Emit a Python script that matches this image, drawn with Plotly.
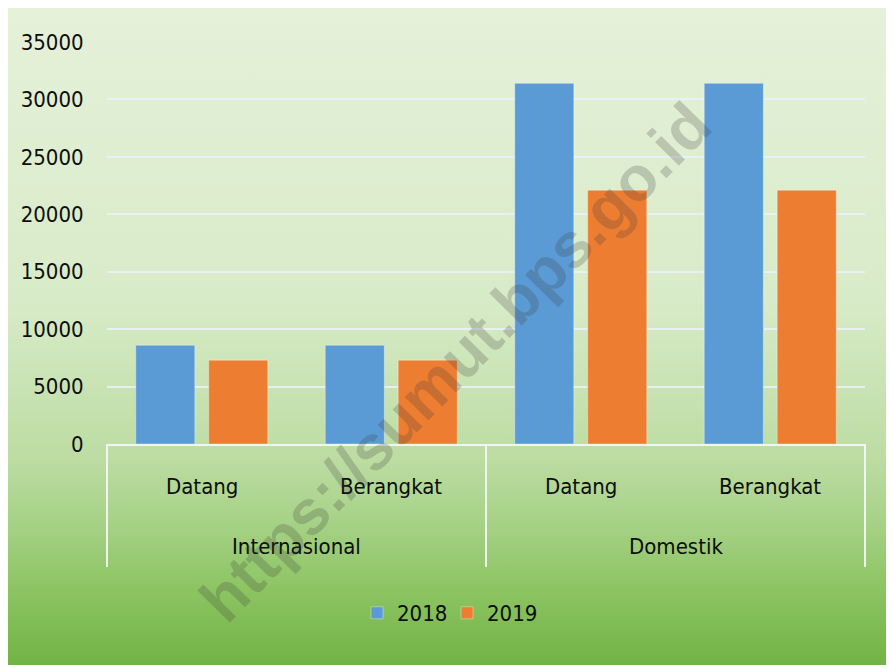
import base64
import plotly.graph_objects as go

groups = ["Internasional", "Internasional", "Domestik", "Domestik"]
subcats = ["Datang", "Berangkat", "Datang", "Berangkat"]
group_labels = ["Internasional", "Domestik"]
series_names = ["2018", "2019"]
values_2018 = [8600, 8600, 31400, 31400]
values_2019 = [7300, 7300, 22100, 22100]
y_ticks = [0, 5000, 10000, 15000, 20000, 25000, 30000, 35000]
watermark = "https://sumut.bps.go.id"

# figure is offset 8px by the page body margin
W, H = 886, 657
L, R, T, B = 99, 29, 34, 221
pw, ph = W - L - R, H - T - B

svg = f'''<svg xmlns="http://www.w3.org/2000/svg" width="{W}" height="{H}" preserveAspectRatio="none">
<defs><linearGradient id="g" x1="0" y1="0" x2="0" y2="1">
<stop offset="0" stop-color="#e5f1d9"/>
<stop offset="0.444" stop-color="#d8ebc8"/>
<stop offset="0.688" stop-color="#bcdca2"/>
<stop offset="0.772" stop-color="#a9d38a"/>
<stop offset="0.886" stop-color="#8cc462"/>
<stop offset="1" stop-color="#72b345"/>
</linearGradient></defs>
<rect x="0" y="0" width="{W}" height="{H}" fill="url(#g)"/>
</svg>'''
bg = "data:image/svg+xml;base64," + base64.b64encode(svg.encode()).decode()

font_fam = "DejaVu Sans Condensed, Liberation Sans Narrow, sans-serif"
txt_col = "#0d0d0d"
lbl_size = 22

fig = go.Figure()
fig.add_trace(go.Bar(
    x=[groups, subcats], y=values_2018, name=series_names[0],
    marker=dict(color="#5b9bd5", line=dict(color="rgba(255,255,255,0.35)", width=1)),
))
fig.add_trace(go.Bar(
    x=[groups, subcats], y=values_2019, name=series_names[1],
    marker=dict(color="#ed7d31", line=dict(color="rgba(255,255,255,0.35)", width=1)),
))

annotations = []
n = len(subcats)
for i, s in enumerate(subcats):
    annotations.append(dict(text=s, xref="paper", yref="paper", x=(i + 0.5) / n, y=-43 / ph,
                            xanchor="center", yanchor="middle", showarrow=False,
                            font=dict(size=lbl_size, color=txt_col, family=font_fam)))
for j, g in enumerate(group_labels):
    annotations.append(dict(text=g, xref="paper", yref="paper", x=(j + 0.5) / len(group_labels),
                            y=-102 / ph, xanchor="center", yanchor="middle", showarrow=False,
                            font=dict(size=lbl_size, color=txt_col, family=font_fam)))
annotations.append(dict(text=watermark, xref="paper", yref="paper",
                        x=(447 - L) / pw, y=(436 - 354) / ph,
                        xanchor="center", yanchor="middle", showarrow=False, textangle=-45.5,
                        font=dict(family="Liberation Sans, Arial, sans-serif", size=63,
                                  weight="bold", color="rgba(55,55,55,0.22)")))

shapes = []
for k in range(len(group_labels) + 1):
    xp = k / len(group_labels)
    shapes.append(dict(type="line", xref="paper", yref="paper", x0=xp, x1=xp, y0=0, y1=-123 / ph,
                       line=dict(color="rgba(245,248,250,0.9)", width=2), layer="above"))

fig.update_layout(
    width=W, height=H,
    margin=dict(l=L, r=R, t=T, b=B, autoexpand=False),
    paper_bgcolor="white",
    plot_bgcolor="rgba(0,0,0,0)",
    barmode="group", bargap=0.23, bargroupgap=0.19,
    font=dict(family=font_fam, size=lbl_size, color=txt_col),
    showlegend=True,
    legend=dict(orientation="h", x=(439 - L) / pw, xanchor="center", y=-169 / ph, yanchor="middle",
                font=dict(size=lbl_size), bgcolor="rgba(0,0,0,0)", traceorder="normal",
                entrywidth=45, entrywidthmode="pixels"),
    images=[dict(source=bg, xref="paper", yref="paper",
                 x=-L / pw, y=1 + T / ph, sizex=W / pw, sizey=H / ph,
                 xanchor="left", yanchor="top", sizing="stretch", layer="below")],
    annotations=annotations,
    shapes=shapes,
)
fig.update_yaxes(range=[0, 35000], tickvals=y_ticks, showgrid=True,
                 gridcolor="rgba(232,240,246,0.95)", gridwidth=2,
                 zeroline=False, showline=False, ticks="outside", ticklen=18,
                 tickcolor="rgba(0,0,0,0)", tickformat="d")
fig.update_xaxes(type="multicategory", showline=True, linecolor="rgba(240,245,248,0.95)", linewidth=2,
                 showdividers=False, showticklabels=False, ticks="")

fig.write_html("out.html")
